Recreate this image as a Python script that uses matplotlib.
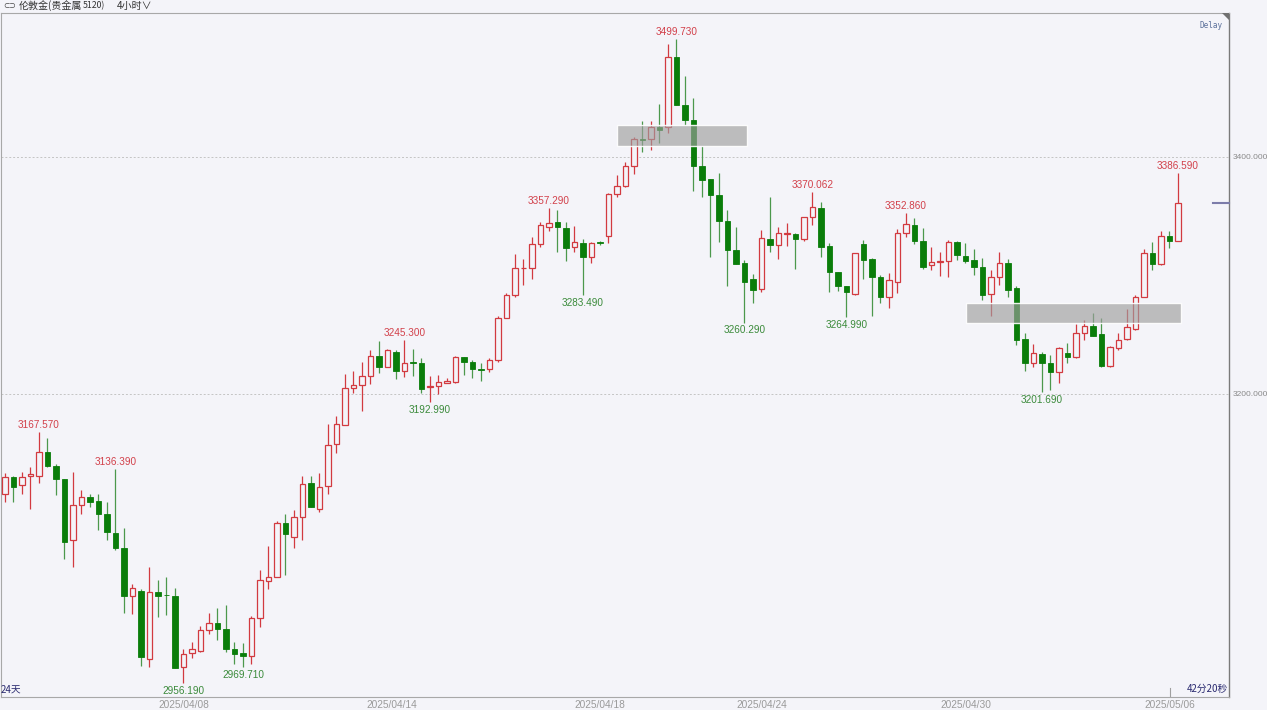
import matplotlib.pyplot as plt
from matplotlib.patches import Rectangle, Polygon
import matplotlib.transforms as mtransforms

# -----------------------------
# Data (4h candles, London gold)
# -----------------------------
opens = [
    3115.6, 3130.2, 3123.0, 3130.8, 3130.8, 3151.3, 3139.5, 3128.0, 3076.8, 3106.3,
    3112.8, 3109.7, 3099.0, 3083.0, 3069.8, 3029.8, 3033.8, 2976.1, 3033.2, 3030.6,
    3029.8, 2969.4, 2981.7, 2983.1, 3000.8, 3006.5, 3001.4, 2984.6, 2981.2, 2978.9,
    3010.7, 3042.4, 3045.3, 3090.9, 3079.1, 3096.0, 3124.6, 3103.0, 3122.4, 3157.6,
    3173.8, 3204.8, 3207.6, 3215.4, 3232.3, 3222.5, 3235.7, 3219.7, 3226.8, 3225.9,
    3205.7, 3207.0, 3209.5, 3210.4, 3231.0, 3226.8, 3220.8, 3220.8, 3228.7, 3264.4,
    3283.6, 3306.1, 3306.1, 3326.6, 3340.7, 3344.9, 3339.8, 3323.8, 3327.7, 3315.9,
    3328.0, 3333.6, 3368.8, 3375.5, 3392.4, 3414.9, 3414.9, 3425.3, 3425.1, 3484.7,
    3443.9, 3431.2, 3392.4, 3381.2, 3367.9, 3346.3, 3321.5, 3310.8, 3296.8, 3288.4,
    3330.8, 3325.7, 3335.3, 3335.0, 3330.8, 3349.1, 3356.7, 3324.9, 3302.7, 3291.4,
    3284.4, 3326.6, 3313.7, 3298.5, 3282.1, 3294.8, 3336.1, 3342.6, 3329.1, 3308.9,
    3311.7, 3312.5, 3328.5, 3316.7, 3313.1, 3307.4, 3284.1, 3298.5, 3310.3, 3289.2,
    3246.2, 3225.9, 3233.8, 3225.9, 3218.8, 3234.9, 3231.0, 3251.2, 3257.6, 3250.4,
    3223.6, 3238.6, 3246.2, 3254.6, 3281.6, 3319.2, 3309.5, 3333.3, 3329.1,
]
highs = [
    3133.1, 3130.8, 3133.9, 3138.1, 3167.57, 3162.6, 3140.9, 3128.3, 3134.4, 3119.0,
    3115.4, 3115.4, 3108.9, 3136.39, 3086.7, 3039.7, 3035.2, 3054.3, 3043.0, 3045.3,
    3036.0, 2984.6, 2991.0, 3004.2, 3014.9, 3019.2, 3021.9, 2991.0, 2989.6, 3012.7,
    3051.5, 3071.7, 3093.1, 3098.7, 3102.1, 3131.1, 3131.1, 3133.1, 3174.4, 3181.4,
    3216.9, 3219.4, 3226.8, 3237.1, 3245.0, 3237.7, 3237.1, 3245.3, 3237.7, 3230.6,
    3215.2, 3216.0, 3213.8, 3232.1, 3231.5, 3228.7, 3225.9, 3230.4, 3265.8, 3285.5,
    3317.9, 3313.7, 3332.2, 3345.4, 3357.29, 3355.3, 3345.4, 3342.0, 3330.6, 3328.5,
    3329.4, 3369.9, 3384.8, 3396.0, 3416.6, 3430.6, 3430.6, 3444.5, 3495.4, 3499.73,
    3468.4, 3449.5, 3409.3, 3381.2, 3386.5, 3355.3, 3340.7, 3313.1, 3301.3, 3338.4,
    3366.5, 3341.2, 3344.6, 3336.1, 3349.6, 3370.062, 3362.3, 3327.2, 3303.2, 3291.4,
    3319.2, 3330.0, 3314.5, 3300.4, 3301.9, 3339.0, 3352.86, 3348.8, 3339.8, 3324.3,
    3320.1, 3330.0, 3329.1, 3327.7, 3322.1, 3314.5, 3304.6, 3320.1, 3313.7, 3291.1,
    3251.2, 3242.2, 3235.7, 3232.9, 3239.4, 3243.3, 3259.1, 3262.5, 3268.6, 3263.9,
    3240.5, 3251.2, 3271.5, 3283.6, 3322.1, 3328.5, 3337.8, 3337.8, 3386.59,
]
lows = [
    3109.1, 3109.1, 3115.6, 3103.2, 3124.6, 3138.1, 3114.8, 3060.5, 3053.8, 3098.5,
    3104.9, 3085.2, 3076.8, 3068.4, 3014.9, 3014.3, 2970.5, 2969.9, 3012.1, 3013.5,
    2968.5, 2956.19, 2977.0, 2982.0, 2997.5, 2992.4, 2982.5, 2972.2, 2969.71, 2972.2,
    3003.6, 3035.2, 3045.3, 3047.3, 3069.8, 3076.8, 3104.4, 3100.7, 3115.6, 3150.0,
    3173.8, 3200.6, 3185.9, 3208.4, 3218.0, 3222.5, 3212.4, 3214.6, 3215.4, 3200.6,
    3192.99, 3200.0, 3209.0, 3209.5, 3216.0, 3213.3, 3211.2, 3218.6, 3227.0, 3264.0,
    3282.1, 3292.0, 3296.8, 3324.3, 3337.8, 3320.1, 3312.5, 3320.1, 3283.49, 3310.3,
    3325.7, 3327.7, 3366.5, 3374.9, 3385.7, 3404.5, 3405.9, 3411.6, 3420.5, 3443.9,
    3427.0, 3371.6, 3366.5, 3315.4, 3328.5, 3291.1, 3309.7, 3260.29, 3276.5, 3286.3,
    3320.1, 3313.7, 3324.9, 3305.2, 3329.4, 3342.6, 3315.9, 3286.3, 3287.2, 3264.99,
    3283.6, 3296.8, 3265.8, 3276.5, 3272.3, 3285.5, 3332.2, 3326.6, 3305.2, 3304.6,
    3299.6, 3299.0, 3313.1, 3310.3, 3300.4, 3279.3, 3265.8, 3292.0, 3282.1, 3241.4,
    3219.7, 3223.0, 3201.69, 3203.4, 3209.5, 3226.4, 3230.1, 3245.6, 3249.2, 3222.5,
    3222.5, 3237.1, 3245.6, 3254.0, 3281.6, 3304.6, 3308.9, 3323.0, 3329.1,
]
closes = [
    3130.2, 3121.3, 3130.2, 3132.7, 3150.8, 3139.5, 3128.0, 3074.9, 3106.1, 3113.3,
    3109.1, 3099.0, 3083.3, 3069.8, 3029.8, 3036.5, 2977.8, 3033.2, 3029.8, 3030.1,
    2969.0, 2980.6, 2984.6, 3000.8, 3006.5, 3001.4, 2984.6, 2980.6, 2978.9, 3010.7,
    3043.0, 3045.3, 3090.9, 3081.6, 3096.0, 3124.1, 3104.4, 3121.8, 3157.0, 3174.7,
    3204.8, 3207.6, 3215.4, 3232.3, 3222.5, 3237.1, 3219.7, 3226.4, 3225.9, 3204.2,
    3206.8, 3210.4, 3211.0, 3231.0, 3227.3, 3220.8, 3220.0, 3228.7, 3264.1, 3283.6,
    3306.1, 3306.6, 3326.6, 3342.6, 3344.1, 3341.2, 3323.0, 3328.0, 3315.9, 3327.2,
    3327.2, 3368.8, 3375.5, 3392.4, 3414.9, 3414.4, 3425.1, 3422.8, 3484.7, 3443.9,
    3431.2, 3392.4, 3380.6, 3367.9, 3346.3, 3321.5, 3309.7, 3294.3, 3287.8, 3331.4,
    3325.7, 3335.6, 3336.1, 3330.8, 3349.1, 3357.6, 3324.3, 3302.7, 3291.4, 3286.3,
    3318.7, 3313.1, 3298.5, 3282.1, 3296.2, 3336.1, 3343.5, 3329.1, 3307.4, 3311.7,
    3312.5, 3328.5, 3317.3, 3312.5, 3307.4, 3283.6, 3298.5, 3310.3, 3287.8, 3245.6,
    3225.9, 3234.3, 3225.9, 3218.8, 3238.6, 3231.0, 3251.2, 3257.6, 3249.2, 3223.6,
    3239.4, 3245.6, 3256.3, 3282.1, 3319.2, 3309.5, 3333.6, 3329.1, 3360.9,
]

# marked extremes: (candle index, value)
high_marks = [(4, 3167.570), (13, 3136.390), (47, 3245.300), (64, 3357.290),
              (79, 3499.730), (95, 3370.062), (106, 3352.860), (138, 3386.590)]
low_marks = [(21, 2956.190), (28, 2969.710), (50, 3192.990), (68, 3283.490),
             (87, 3260.290), (99, 3264.990), (122, 3201.690)]

# gray zones: (start index, end index, low price, high price)
zones = [(71.95, 87.3, 3409.3, 3427.0), (113.06, 138.35, 3259.9, 3276.8)]

tick_pos = [21, 45.5, 70, 89, 113, 137]
tick_labels = ["2025/04/08", "2025/04/14", "2025/04/18",
               "2025/04/24", "2025/04/30", "2025/05/06"]

# -----------------------------
# Style
# -----------------------------
BG = "#f4f4f9"
RED = "#d23a40"
GREEN = "#0a7d0a"
GREEN_WICK = "#4c984c"
RED_TXT = "#d2404a"
GREEN_TXT = "#3a8a3a"
NAVY = "#2a2a70"
CJK = ["Noto Sans CJK SC", "DejaVu Sans"]

plt.rcParams["font.family"] = ["Liberation Sans", "DejaVu Sans"]

fig = plt.figure(figsize=(12.67, 7.10), dpi=100, facecolor=BG)
ax = fig.add_axes([1 / 1267, 13 / 710, 1228 / 1267, 684 / 710])
ax.set_facecolor(BG)

# -----------------------------
# Candles
# -----------------------------
width = 0.7

for i in range(len(opens)):
    o, h, l, c = opens[i], highs[i], lows[i], closes[i]
    top = max(o, c)
    bot = min(o, c)
    body = max(top - bot, 0.6)

    if c >= o:
        ax.vlines(i, top, h, color=RED, lw=0.9, zorder=2)
        ax.vlines(i, l, bot, color=RED, lw=0.9, zorder=2)
        ax.bar(i, body, width, bottom=bot, facecolor=BG,
               edgecolor=RED, linewidth=0.9, zorder=3)
    else:
        ax.vlines(i, l, h, color=GREEN_WICK, lw=0.9, zorder=2)
        ax.bar(i, body, width, bottom=bot, facecolor=GREEN,
               edgecolor=GREEN, linewidth=0.6, zorder=3)

# -----------------------------
# Zones
# -----------------------------
for x0, x1, y0, y1 in zones:
    ax.add_patch(Rectangle((x0, y0), x1 - x0, y1 - y0,
                           facecolor=(0.62, 0.62, 0.62, 0.65),
                           edgecolor=(1, 1, 1, 0.9), lw=1.0, zorder=4))

# -----------------------------
# High / low labels
# -----------------------------
for i, v in high_marks:
    ax.annotate(f"{v:.3f}", xy=(i, v), xytext=(0, 1.5),
                textcoords="offset points", ha="center", va="bottom",
                fontsize=7.2, color=RED_TXT, zorder=5)

for i, v in low_marks:
    ax.annotate(f"{v:.3f}", xy=(i, v), xytext=(0, -2),
                textcoords="offset points", ha="center", va="top",
                fontsize=7.2, color=GREEN_TXT, zorder=5)

# -----------------------------
# Axes
# -----------------------------
ax.set_xlim(-0.47, 144.0)
ax.set_ylim(2944.3, 3521.5)

ax.yaxis.tick_right()
ax.set_yticks([3200, 3400])
ax.set_yticklabels(["3200.000", "3400.000"])
ax.tick_params(axis="y", length=0, pad=3, labelsize=6, labelcolor="#8a8a8a")
ax.grid(axis="y", color="#c4c4c4", linestyle=(0, (2, 2)), lw=0.7)

ax.set_xticks(tick_pos)
ax.set_xticklabels(tick_labels)
ax.tick_params(axis="x", length=0, pad=2.5, labelsize=7.3, labelcolor="#9a9a9a")

for side in ["left", "top", "bottom"]:
    ax.spines[side].set_color("#a8a8a8")
    ax.spines[side].set_linewidth(0.8)
ax.spines["right"].set_color("#7a7a7a")
ax.spines["right"].set_linewidth(1.0)

# current price marker on the right edge
trans = mtransforms.blended_transform_factory(ax.transAxes, ax.transData)
ax.plot([0.987, 1.0], [closes[-1], closes[-1]], transform=trans,
        color="#7c7caa", lw=1.5, clip_on=False, zorder=6)

# small time tick near the bottom
trans_x = mtransforms.blended_transform_factory(ax.transData, ax.transAxes)
ax.plot([137.1, 137.1], [0, 0.013], transform=trans_x,
        color="#a0a0a0", lw=0.8, zorder=6)

ax.text(0.0, 0.004, "24天", transform=ax.transAxes, family=CJK,
        fontsize=7, color=NAVY, ha="left", va="bottom")
ax.text(0.9995, 0.004, "42分20秒", transform=ax.transAxes, family=CJK,
        fontsize=7, color=NAVY, ha="right", va="bottom")

ax.text(0.9945, 0.988, "Delay", transform=ax.transAxes,
        family="DejaVu Sans Mono", fontsize=5.5, color="#5a6f9a",
        ha="right", va="top")

# corner triangle
fig.patches.append(Polygon(
    [(1222 / 1267, 1 - 13 / 710), (1229 / 1267, 1 - 13 / 710),
     (1229 / 1267, 1 - 20 / 710)],
    closed=True, transform=fig.transFigure, facecolor="#707070",
    edgecolor="none"))

# -----------------------------
# Header
# -----------------------------
fig.text(3 / 1267, 1 - 6 / 710, "⊂⊃", family=["DejaVu Sans"],
         fontsize=5.5, color="#444444", ha="left", va="center")
fig.text(19 / 1267, 1 - 6 / 710, "伦敦金(贵金属", family=CJK,
         fontsize=7.2, color="#333333", ha="left", va="center")
fig.text(83 / 1267, 1 - 6 / 710, "5120)", family=CJK,
         fontsize=6.3, color="#333333", ha="left", va="center")
fig.text(117 / 1267, 1 - 6 / 710, "4小时∨", family=CJK,
         fontsize=7.2, color="#333333", ha="left", va="center")

fig.savefig("out.png", dpi=100, facecolor=BG)
